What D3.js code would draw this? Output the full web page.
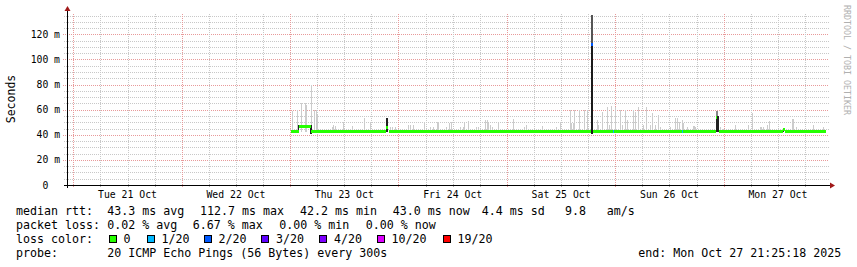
<!DOCTYPE html>
<html><head><meta charset="utf-8">
<script src="https://cdn.jsdelivr.net/npm/d3@7"></script>
<style>
html,body{margin:0;padding:0;background:#fff;}
svg{display:block;}
text{font-family:"DejaVu Sans Mono",monospace;white-space:pre;}
</style></head><body>
<svg id="chart" width="857" height="267"></svg>
<script>
// ---------- data ----------
const dayLabels = ["Tue 21 Oct","Wed 22 Oct","Thu 23 Oct","Fri 24 Oct","Sat 25 Oct","Sun 26 Oct","Mon 27 Oct"];
const yTicks = [0,20,40,60,80,100,120];
const yTickLabels = ["0","20 m","40 m","60 m","80 m","100 m","120 m"];
const lossLabels = ["0","1/20","2/20","3/20","4/20","10/20","19/20"];
const lossColors = ["#26ff00","#00b8ff","#0059ff","#5e00ff","#7e00ff","#dd00ff","#ff0000"];

// hours after Thu 23 Oct 00:00 ; median (ms) ; loss index (null = no line)
const medianHours  = [0.27, 1.97, 4.63, 21.2, 21.6, 21.9, 66.62, 67.06, 71.55, 71.8, 86.66, 86.9, 94.3, 94.6, 94.9, 109.15, 109.5, 118.6];
const medianValues = [43,   47,   43,   46,   null, 43,   112.7, 43,    43,    43,   43,    43,   54,   null, 43,   45,     43,    null];
const medianLoss   = [0,    0,    0,    0,    null, 0,    2,     0,     1,     0,    1,     0,    0,    null, 0,    0,      0,     null];

// light smoke: hour, top of ping spread (ms)
const smokeHours = [0.49,1.46,2.41,3.30,3.52,4.56,5.36,5.67,6.02,9.21,9.50,9.94,11.78,13.64,16.43,17.69,22.12,22.56,23.23,26.17,26.55,27.21,29.65,30.98,31.57,32.46,32.81,34.52,35.25,35.56,37.62,38.21,38.50,39.45,41.16,41.67,43.15,43.53,43.88,44.26,44.63,46.10,49.42,51.78,52.23,55.70,58.87,59.75,61.97,62.30,62.63,62.92,63.96,65.00,65.80,67.88,68.24,69.12,70.10,70.61,71.05,71.93,73.04,73.42,74.15,74.52,75.99,76.36,77.09,78.20,78.73,79.68,80.19,80.79,81.52,81.90,84.11,85.22,85.66,86.10,86.70,87.05,87.81,89.14,89.43,89.65,95.18,95.78,98.50,101.45,102.20,104.04,104.37,104.77,105.52,106.10,111.06,111.41,112.01,115.84,118.05];
const smokeTops  = [59,59.6,65,65,63.6,79.5,59.6,60,55.6,46,47.7,47,50,47,53,50,46,46.5,46,47.7,47.7,47.7,50.5,46,46,50,50,46,49.5,50,46.5,46.5,49.5,51,46,46.5,51.7,51.7,49,47.7,46,49.5,52.2,46.5,47.7,47,46,50.3,59.6,49,49,60,60,60,60,51.7,47.7,58.3,62.2,47.7,62.8,62,59.6,47.7,59.6,52,59.6,58,62,47.7,62,47.7,57,47.7,56,46.5,46.5,53,53,50,51.7,49,46,47,47,46,46.5,45,47.7,47.7,57.5,46,46,46,47.7,51,52.2,52.2,46,47.7,46];

// dense smoke: start hour, end hour, low ms, high ms, shade
const denseStart = [0.1, 1.85, 4.5, 21.2, 66.55, 66.62, 94.25, 94.3, 109.1];
const denseEnd   = [0.3, 2.07, 4.75, 21.65, 67.06, 67.0, 94.9, 94.8, 109.35];
const denseLow   = [42, 43, 41, 42, 41, 112, 42, 55, 42];
const denseHigh  = [44, 47.5, 47.5, 53, 112, 135.5, 55, 59, 45.5];
const denseShade = ["#222","#222","#222","#222","#1a1a1a","#555","#222","#888","#222"];

const legendRtt  = ["median rtt:","43.3 ms avg","112.7 ms max","42.2 ms min","43.0 ms now","4.4 ms sd","9.8","am/s"];
const legendLoss = ["packet loss:","0.02 % avg","6.67 % max","0.00 % min","0.00 % now"];
const probeText = ["probe:","20 ICMP Echo Pings (56 Bytes) every 300s"];
const endText = "end: Mon Oct 27 21:25:18 2025";

// ---------- layout ----------
const svg = d3.select("#chart");
const X0 = 67, X1 = 829, Y0 = 185, Y1 = 14;
const tStart = new Date(Date.UTC(2025,9,20,22,36,18));
const tEnd   = new Date(Date.UTC(2025,9,27,23,18,54));
const x = d3.scaleUtc().domain([tStart,tEnd]).range([X0,X1]);
const y = d3.scaleLinear().domain([0,136.2]).range([Y0,Y1]);
const base = Date.UTC(2025,9,23);
const hd = h => new Date(base + h*3600000);

const grid = svg.append("g").attr("shape-rendering","crispEdges");
// horizontal grid
d3.range(5,136,5).forEach(v=>{
  const major = v%20===0;
  const yy = Math.round(y(v))+0.5;
  grid.append("line").attr("x1",major?63:64).attr("x2",X1).attr("y1",yy).attr("y2",yy)
    .attr("stroke",major?"#e89a9a":"#c8c8c8").attr("stroke-dasharray","1,1");
});
// vertical grid
d3.utcHour.every(6).range(tStart,tEnd).forEach(t=>{
  const major = t.getUTCHours()===0;
  const xx = Math.round(x(t))+0.5;
  grid.append("line").attr("x1",xx).attr("x2",xx).attr("y1",Y1).attr("y2",Y0+3)
    .attr("stroke",major?"#e89a9a":"#c8c8c8").attr("stroke-dasharray","1,1");
});

const marks = svg.append("g").attr("shape-rendering","crispEdges");
// light smoke
smokeHours.forEach((h,i)=>{
  const xx = Math.round(x(hd(h)));
  marks.append("rect").attr("x",xx).attr("width",1)
    .attr("y",Math.round(y(smokeTops[i]))).attr("height",Math.round(y(42))-Math.round(y(smokeTops[i])))
    .attr("fill","#cccccc");
});
// dense smoke
denseStart.forEach((h,i)=>{
  const xa = Math.round(x(hd(h))), xb = Math.max(xa+1,Math.round(x(hd(denseEnd[i]))));
  marks.append("rect").attr("x",xa).attr("width",xb-xa)
    .attr("y",Math.round(y(denseHigh[i]))).attr("height",Math.round(y(denseLow[i]))-Math.round(y(denseHigh[i])))
    .attr("fill",denseShade[i]);
});
// median line coloured by loss
for(let i=0;i<medianHours.length-1;i++){
  if(medianValues[i]===null) continue;
  const xa = Math.round(x(hd(medianHours[i]))), xb = Math.round(x(hd(medianHours[i+1])));
  const yy = Math.round(y(medianValues[i]));
  marks.append("rect").attr("x",xa).attr("width",Math.max(1,xb-xa))
    .attr("y",yy-1).attr("height",3).attr("fill",lossColors[medianLoss[i]]);
}

// axes
const ax = svg.append("g").attr("shape-rendering","crispEdges");
ax.append("line").attr("x1",X0-3).attr("x2",X1+1).attr("y1",Y0+0.5).attr("y2",Y0+0.5).attr("stroke","#000");
ax.append("line").attr("x1",X0+0.5).attr("x2",X0+0.5).attr("y1",Y0+3).attr("y2",Y1-3).attr("stroke","#000");
svg.append("path").attr("d",`M${X1+1},${Y0-2.5} L${X1+6},${Y0+0.5} L${X1+1},${Y0+3.5} Z`).attr("fill","#a01818");
svg.append("path").attr("d",`M${X0-2.5},${Y1-3} L${X0+0.5},${Y1-8} L${X0+3.5},${Y1-3} Z`).attr("fill","#a01818");
// x ticks under axis
d3.utcHour.every(6).range(tStart,tEnd).forEach(t=>{
  const xx = Math.round(x(t))+0.5;
  ax.append("line").attr("x1",xx).attr("x2",xx).attr("y1",Y0-1).attr("y2",Y0+3)
    .attr("stroke",t.getUTCHours()===0?"#e89a9a":"#b0b0b0").attr("stroke-dasharray","1,1");
});

// y tick labels
yTicks.forEach((v,i)=>{
  const t = svg.append("text").attr("x",60).attr("y",y(v)+3.6).attr("text-anchor","end")
    .attr("font-size","9.75px").attr("fill","#000").text(yTickLabels[i]);
  if(v===0) t.append("tspan").attr("visibility","hidden").text(" m");
});
// x labels at noon
dayLabels.forEach((d,i)=>{
  svg.append("text").attr("x",x(new Date(Date.UTC(2025,9,21+i,12)))).attr("y",197.5)
    .attr("text-anchor","middle").attr("font-size","9.8px").attr("fill","#000").text(d);
});
// y title
svg.append("text").attr("transform","translate(15,99) rotate(-90)").attr("text-anchor","middle")
  .attr("font-size","11.5px").attr("fill","#000").text("Seconds");
// watermark
svg.append("text").attr("transform","translate(844,60) rotate(90)").attr("text-anchor","middle")
  .attr("font-size","8.3px").attr("fill","#b0b0b0").text("RRDTOOL / TOBI OETIKER");

// legend
const FS = "11.63px";
const rttX = [16,107.3,200,300,392.7,481.7,565,606.7];
legendRtt.forEach((s,i)=>svg.append("text").attr("x",rttX[i]).attr("y",215).attr("font-size",FS).attr("fill","#000").text(s));
const lossX = [16,107.3,192.7,279.3,365.7];
legendLoss.forEach((s,i)=>svg.append("text").attr("x",lossX[i]).attr("y",229).attr("font-size",FS).attr("fill","#000").text(s));
svg.append("text").attr("x",16).attr("y",243).attr("font-size",FS).attr("fill","#000").text("loss color:");
const boxX = [108.5,146.5,203.5,261,319,376.5,442.5];
lossLabels.forEach((s,i)=>{
  svg.append("rect").attr("x",boxX[i]+0.5).attr("y",235.5).attr("width",7).attr("height",7)
    .attr("fill",lossColors[i]).attr("stroke","#000").attr("stroke-width",1).attr("shape-rendering","crispEdges");
  svg.append("text").attr("x",boxX[i]+15).attr("y",243).attr("font-size",FS).attr("fill","#000").text(s);
});
svg.append("text").attr("x",16).attr("y",256.7).attr("font-size",FS).attr("fill","#000").text(probeText[0]);
svg.append("text").attr("x",107.3).attr("y",256.7).attr("font-size",FS).attr("fill","#000").text(probeText[1]);
svg.append("text").attr("x",638.3).attr("y",256.7).attr("font-size",FS).attr("fill","#000").text(endText);
</script>
</body></html>
